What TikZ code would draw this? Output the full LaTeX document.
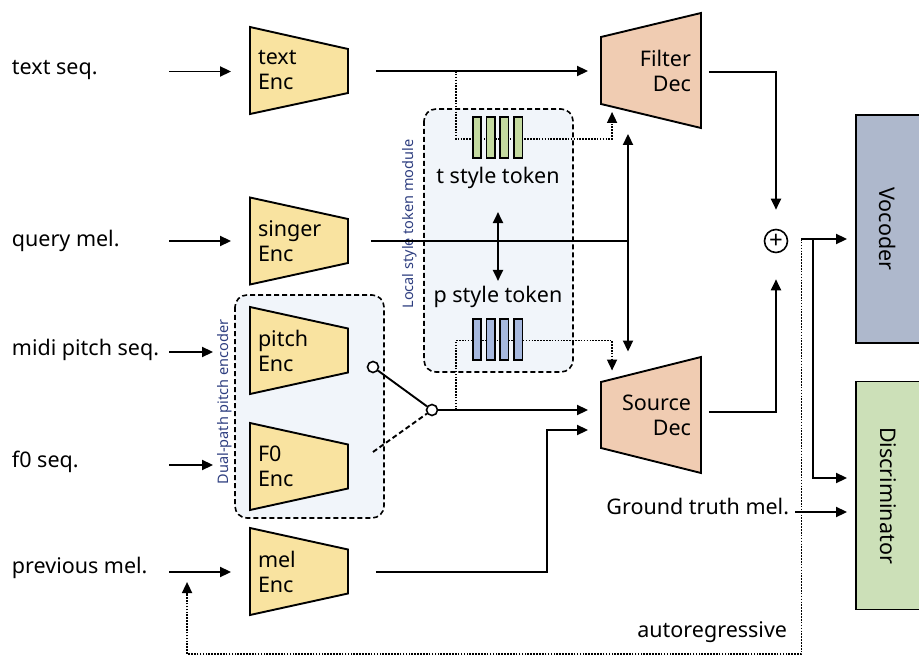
\documentclass[tikz,border=0pt]{standalone}
\usepackage{fontspec}
\setmainfont{Noto Sans}
\usetikzlibrary{arrows.meta,calc}
\definecolor{cenc}{RGB}{249,227,160}
\definecolor{cdec}{RGB}{240,204,178}
\definecolor{cvoc}{RGB}{174,184,204}
\definecolor{cdis}{RGB}{204,224,184}
\definecolor{cmod}{RGB}{241,245,250}
\definecolor{ctg}{RGB}{196,218,160}
\definecolor{ctp}{RGB}{166,184,222}
\definecolor{cnavy}{RGB}{46,62,128}

\begin{document}
\begin{tikzpicture}[x=1pt,y=-1pt,line width=1.9pt,font=\fontsize{21.5}{25}\selectfont,
   enc/.style={draw,fill=cenc},
   dec/.style={draw,fill=cdec},
   encbox/.style={minimum width=98pt,minimum height=87pt,inner xsep=8pt,text width=82pt,align=left},
   decbox/.style={minimum width=100pt,minimum height=115pt,inner xsep=10pt,text width=80pt,align=right},
   inp/.style={anchor=west,inner sep=0pt},
   module/.style={draw,fill=cmod,rounded corners=12pt,line width=1.6pt,dash pattern=on 5pt off 3pt},
   modlbl/.style={rotate=90,text=cnavy,font=\fontsize{14.5}{17}\selectfont},
   tok/.style={draw,line width=1.6pt,minimum width=8.5pt,minimum height=41pt,inner sep=0pt},
   side/.style={draw,rotate=-90,minimum width=228pt,minimum height=64pt},
   sumnode/.style={draw,circle,minimum size=23pt,inner sep=0pt,line width=1.6pt,font=\fontsize{24}{24}\selectfont},
   sw/.style={draw,circle,minimum size=11pt,inner sep=0pt,line width=1.6pt,fill=white},
   arr/.style={-{Triangle[length=11pt,width=10pt]}},
   darr/.style={{Triangle[length=11pt,width=10pt]}-{Triangle[length=11pt,width=10pt]}},
   dots/.style={line width=1.6pt,dash pattern=on 1.6pt off 1.3pt}]
  \useasboundingbox (0,0) rectangle (919,655);

  \draw[module] (235,295) rectangle (384,518);
  \node[modlbl] (dlbl) at (225,402) {Dual-path pitch encoder};
  \draw[module] (424,109) rectangle (573,372);
  \node[modlbl] (llbl) at (410,224) {Local style token module};

  \node[inp] (ltext) at (11,70) {text seq.};
  \node[inp] (lquery) at (11,241) {query mel.};
  \node[inp] (lmidi) at (11,350) {midi pitch seq.};
  \node[inp] (lf0) at (11,462) {f0 seq.};
  \node[inp] (lprev) at (11,568) {previous mel.};

  \draw[enc] (250,27) -- (348,49) -- (348,93) -- (250,114) -- cycle;
  \node[encbox] (tenc) at (299,70.5) {text\\Enc};
  \draw[enc] (250,197.5) -- (348,219) -- (348,263) -- (250,284.5) -- cycle;
  \node[encbox] (senc) at (299,241) {singer\\Enc};
  \draw[enc] (250,307) -- (348,328.5) -- (348,372.5) -- (250,394) -- cycle;
  \node[encbox] (penc) at (299,350.5) {pitch\\Enc};
  \draw[enc] (250,423) -- (348,444.5) -- (348,488.5) -- (250,510) -- cycle;
  \node[encbox] (fenc) at (299,466.5) {F0\\Enc};
  \draw[enc] (250,528) -- (348,549.5) -- (348,593.5) -- (250,615) -- cycle;
  \node[encbox] (menc) at (299,571.5) {mel\\Enc};

  \draw[dec] (601,37) -- (701,13) -- (701,128) -- (601,104) -- cycle;
  \node[decbox] (fdec) at (651,70.5) {Filter\\Dec};
  \draw[dec] (601,382) -- (701,357) -- (701,473) -- (601,448) -- cycle;
  \node[decbox] (sdec) at (651,415) {Source\\Dec};

  \node[side,fill=cvoc] (voc) at (888,229) {Vocoder};
  \node[side,fill=cdis] (dis) at (888,495.5) {Discriminator};
  \node[sumnode] (sum) at (776,241) {+};

  \coordinate (tdot) at (456,71);
  \coordinate (pdot) at (456,410);
  \coordinate (sj) at (628,241);
  \coordinate (fsw) at (373,452);
  \coordinate (mk) at (547,430);
  \coordinate (ro) at ($(sum.east)+(13,-2)$);

  \draw[arr] ($(tenc.west)+(-80,1)$) -- ++(62,0);
  \draw[arr] ($(senc.west)+(-80,0)$) -- ++(62,0);
  \draw[arr] ($(penc.west)+(-80,1.5)$) -- ++(44,0);
  \draw[arr] ($(fenc.west)+(-80,-1.5)$) -- ++(44,0);
  \draw[arr] ($(menc.west)+(-80,0.5)$) -- ++(62,0);

  \draw[arr] ($(tenc.east)+(27,0.5)$) -- ($(fdec.west |- tdot)+(-12,0)$);
  \draw[dots,arr] (tdot) |- ($(fdec.south west)+(12,10)$) -- ($(fdec.south west)+(12,-17)$);
  \draw ($(senc.east)+(22,0)$) -- (sj);
  \draw[arr] (sj) -- ($(sj |- fdec.south)+(0,5)$);
  \draw[arr] (sj) -- ($(sj |- sdec.north)+(0,-5)$);

  \node[sw] (sw1) at (373,367) {};
  \node[sw] (sw2) at (432,410) {};
  \draw (sw1) -- (sw2);
  \draw[dash pattern=on 5pt off 3pt] (fsw) -- (sw2);
  \draw[arr] (sw2) -- ($(sdec.west |- sw2)+(-12,0)$);
  \draw[dots,arr] (pdot) |- ($(sdec.north west)+(12,-16)$) -- ($(sdec.north west)+(12,14)$);
  \draw[arr] ($(menc.east)+(27,0.5)$) -| (mk) -- ($(sdec.west |- mk)+(-12,0)$);

  \foreach \i in {0,...,3} {
    \node[tok,fill=ctg] (t\i) at (477+13.7*\i,137.5) {};
    \node[tok,fill=ctp] (p\i) at (477+13.7*\i,339.5) {};
  }
  \node (tlbl) at (498,178) {t style token};
  \node (plbl) at (498,297) {p style token};
  \draw[darr,shorten <=19pt,shorten >=1pt] (tlbl) -- (plbl);

  \draw[arr] ($(fdec.east)+(7,1.5)$) -| ($(sum.north)+(0,-19)$);
  \draw[arr] ($(sdec.east)+(7,-3)$) -| ($(sum.south)+(0,26)$);
  \draw[arr] (ro) -- ($(voc.south |- ro)+(-8,0)$);
  \draw[arr] ($(ro)+(12,0)$) |- ($(dis.south)+(-8,-17.5)$);

  \node[anchor=base east,inner sep=0pt] (gtm) at (790,514) {Ground truth mel.};
  \draw[arr] ($(gtm.base east)+(5,-2)$) -- ($(dis.south)+(-8,16.5)$);
  \node[anchor=base east,inner sep=0pt] (auto) at (788,637) {autoregressive};
  \draw[dots,arr] (ro) -- ++(0,415) -| ($(menc.west)+(-62,10.5)$);
\end{tikzpicture}
\end{document}
